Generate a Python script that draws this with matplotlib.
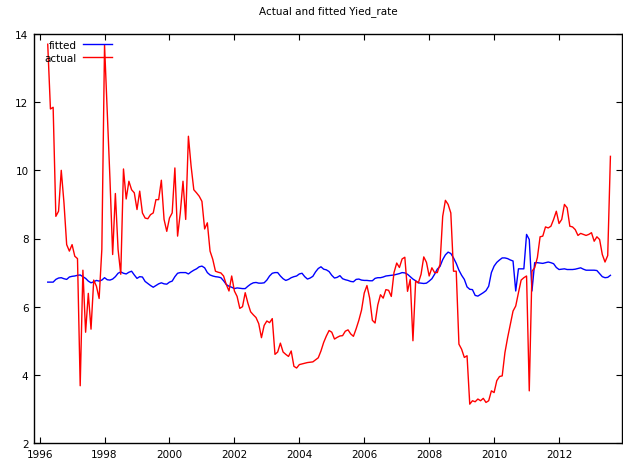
import numpy as np
import matplotlib.pyplot as plt

# monthly data, April 1996 .. 2013
start_year = 1996
start_month = 4

actual = [
    13.7, 11.8, 11.85, 8.65, 8.8, 10.0, 9.05, 7.82, 7.63, 7.82,
    7.48, 7.41, 3.68, 7.07, 5.25, 6.39, 5.34, 6.78, 6.6, 6.24,
    7.68, 13.68, 11.7, 9.75, 7.53, 9.32, 7.68, 6.95, 10.04, 9.16,
    9.68, 9.43, 9.34, 8.85, 9.39, 8.75, 8.6, 8.58, 8.7, 8.75,
    9.14, 9.14, 9.71, 8.56, 8.21, 8.6, 8.75, 10.07, 8.07, 8.75,
    9.68, 8.56, 11.0, 10.12, 9.43, 9.34, 9.24, 9.09, 8.28, 8.46,
    7.63, 7.39, 7.04, 7.01, 6.99, 6.9, 6.65, 6.46, 6.9, 6.46,
    6.3, 5.95, 6.0, 6.41, 6.1, 5.85, 5.76, 5.68, 5.5, 5.09,
    5.45, 5.58, 5.53, 5.65, 4.6, 4.67, 4.93, 4.67, 4.6, 4.54,
    4.7, 4.25, 4.2, 4.3, 4.32, 4.34, 4.36, 4.37, 4.38, 4.44,
    4.5, 4.7, 4.95, 5.14, 5.3, 5.25, 5.05, 5.1, 5.14, 5.15,
    5.28, 5.32, 5.2, 5.13, 5.35, 5.6, 5.9, 6.4, 6.62, 6.25,
    5.6, 5.52, 6.05, 6.35, 6.25, 6.5, 6.48, 6.3, 7.0, 7.28,
    7.15, 7.4, 7.45, 6.45, 6.8, 5.0, 6.75, 6.7, 6.95, 7.46,
    7.3, 6.9, 7.14, 7.0, 7.0, 7.24, 8.65, 9.12, 9.0, 8.75,
    7.04, 7.04, 4.9, 4.75, 4.51, 4.56, 3.14, 3.24, 3.21, 3.29,
    3.24, 3.31, 3.19, 3.24, 3.53, 3.48, 3.83, 3.95, 3.97, 4.65,
    5.09, 5.48, 5.87, 6.02, 6.41, 6.78, 6.85, 6.9, 3.53, 7.04,
    7.14, 7.44, 8.05, 8.07, 8.34, 8.31, 8.36, 8.56, 8.8, 8.44,
    8.56, 9.0, 8.9, 8.36, 8.34, 8.26, 8.09, 8.15, 8.12, 8.09,
    8.12, 8.17, 7.92, 8.05, 7.97, 7.53, 7.31, 7.5, 10.41,
]

fitted = [
    6.72, 6.72, 6.72, 6.8, 6.84, 6.85, 6.82, 6.8, 6.87, 6.89,
    6.9, 6.92, 6.93, 6.88, 6.83, 6.75, 6.7, 6.73, 6.77, 6.75,
    6.78, 6.85, 6.79, 6.78, 6.81, 6.88, 6.98, 7.02, 6.98, 6.96,
    7.01, 7.04, 6.93, 6.83, 6.88, 6.87, 6.74, 6.68, 6.62, 6.57,
    6.62, 6.67, 6.7, 6.67, 6.66, 6.72, 6.75, 6.88, 6.98, 7.0,
    7.0, 7.0, 6.96, 7.02, 7.07, 7.11, 7.17, 7.19, 7.14, 7.0,
    6.93, 6.9, 6.88, 6.87, 6.85, 6.76, 6.65, 6.6, 6.57, 6.53,
    6.55, 6.54, 6.53, 6.53, 6.6, 6.66, 6.7, 6.71, 6.69, 6.69,
    6.7, 6.78, 6.9, 6.98, 7.0, 7.0, 6.9, 6.82, 6.77, 6.8,
    6.85, 6.88, 6.9, 6.96, 6.98, 6.88, 6.81, 6.84, 6.89, 7.02,
    7.12, 7.17, 7.1, 7.08, 7.03, 6.92, 6.84, 6.86, 6.91, 6.82,
    6.79, 6.77, 6.74, 6.73, 6.8, 6.81, 6.78, 6.77, 6.77, 6.76,
    6.76, 6.83, 6.85, 6.85, 6.87, 6.9, 6.91, 6.92, 6.93, 6.95,
    6.97, 7.0, 6.99, 6.95, 6.88, 6.81, 6.76, 6.7, 6.69, 6.68,
    6.69, 6.75, 6.82, 6.95, 7.1, 7.18, 7.38, 7.52, 7.6, 7.56,
    7.43, 7.27, 7.07, 6.92, 6.8, 6.58, 6.51, 6.5, 6.33, 6.31,
    6.36, 6.41, 6.47, 6.6, 7.0, 7.19, 7.3, 7.37, 7.43, 7.43,
    7.41, 7.37, 7.34, 6.46, 7.11, 7.11, 7.11, 8.12, 7.97, 6.46,
    7.29, 7.29, 7.28, 7.27, 7.29, 7.31, 7.29, 7.26, 7.15, 7.09,
    7.1, 7.11, 7.09, 7.09, 7.09, 7.1, 7.12, 7.14, 7.1, 7.07,
    7.07, 7.07, 7.07, 7.06, 6.97, 6.88, 6.85, 6.86, 6.92,
]

x_ticks = [1996, 1998, 2000, 2002, 2004, 2006, 2008, 2010, 2012]
y_ticks = [2, 4, 6, 8, 10, 12, 14]

t = start_year + (start_month - 1 + np.arange(len(actual))) / 12

fig = plt.figure(figsize=(6.23, 4.64), dpi=100)
ax = fig.add_axes([34 / 623, 20 / 464, 588 / 623, 409 / 464])

ax.plot(t, fitted, color="#0000ff", lw=1.0, label="fitted")
ax.plot(t, actual, color="#ff0000", lw=1.0, label="actual")

ax.set_xlim(1995.827, 2013.94)
ax.set_ylim(2, 14)
ax.set_xticks(x_ticks)
ax.set_yticks(y_ticks)
ax.tick_params(direction="in", length=4, width=0.8, top=True, right=True,
               labelsize=7.5, pad=4)
for s in ax.spines.values():
    s.set_linewidth(1.0)

ax.set_title("Actual and fitted Yied_rate", fontsize=7.5, pad=15)

# gnuplot style key: label first, sample line after it
ax.legend(loc="upper left", bbox_to_anchor=(0.012, 0.993), markerfirst=False,
          frameon=False, fontsize=7.5, handlelength=2.8, handletextpad=0.6,
          labelspacing=0.25, borderaxespad=0.1, borderpad=0.2)

fig.savefig("out.png", dpi=100)
